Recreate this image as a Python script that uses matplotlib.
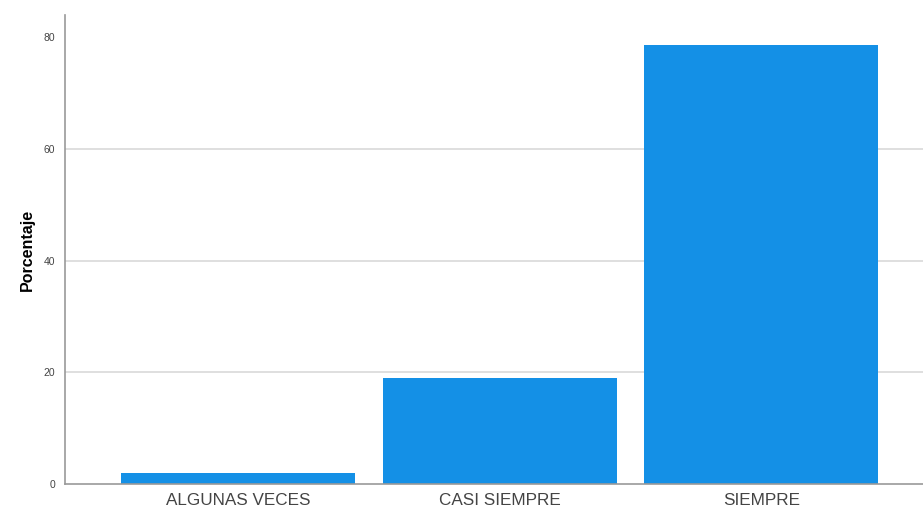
import matplotlib.pyplot as plt

# Data
categories = ['ALGUNAS VECES', 'CASI SIEMPRE', 'SIEMPRE']
percentages = [2.0, 18.9, 78.6]
y_ticks = [0, 20, 40, 60, 80]
grid_levels = [20, 40, 60]

plt.rcParams['font.family'] = ['Liberation Sans', 'DejaVu Sans']

fig = plt.figure(figsize=(9.23, 5.12), dpi=100)
ax = fig.add_axes([0.0704, 0.0547, 0.9296, 0.916])

# Gridlines (the top one is not drawn in the original)
for g in grid_levels:
    ax.axhline(g, color='#d9d9d9', linewidth=1.2, zorder=0)

x = range(len(categories))
ax.bar(x, percentages, width=0.895, color='#1490e6', zorder=2)

ax.set_xlim(-0.662, 2.618)
ax.set_ylim(0, 84)
ax.set_xticks(list(x))
ax.set_xticklabels(categories, fontsize=12.3, color='#444444')
ax.set_yticks(y_ticks)
ax.set_yticklabels([str(t) for t in y_ticks], fontsize=7.5, color='#444444')
ax.tick_params(axis='x', length=0, pad=6.5)
ax.tick_params(axis='y', length=0, pad=7)

ax.set_ylabel('Porcentaje', fontsize=11.5, fontweight='bold', labelpad=6)

for side in ['top', 'right']:
    ax.spines[side].set_visible(False)
ax.spines['left'].set_color('#999999')
ax.spines['bottom'].set_color('#999999')
ax.spines['left'].set_linewidth(1.2)
ax.spines['bottom'].set_linewidth(1.2)

fig.savefig('out.png', dpi=100)
